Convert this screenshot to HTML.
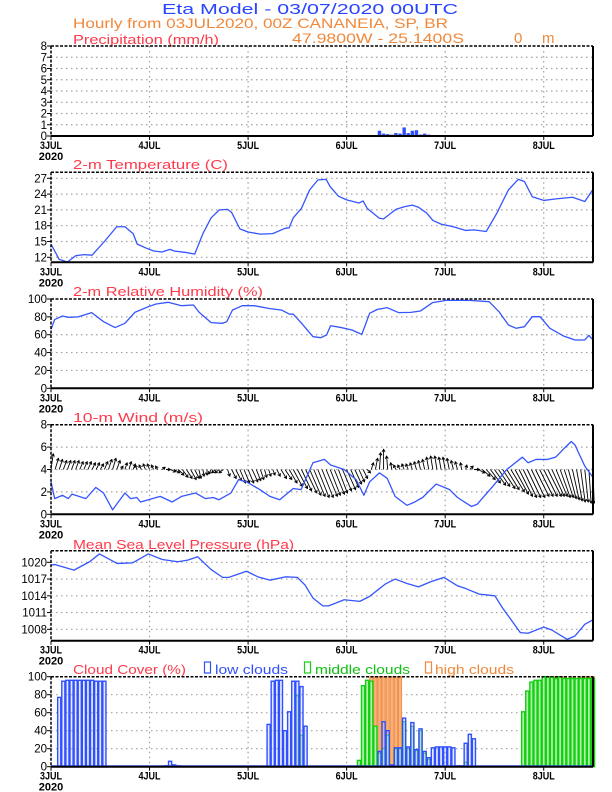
<!DOCTYPE html>
<html><head><meta charset="utf-8"><style>
html,body{margin:0;padding:0;background:#fff;}
svg{display:block;font-family:"Liberation Sans",sans-serif;}
</style></head><body>
<svg id="chart" width="612" height="792" viewBox="0 0 612 792" xmlns="http://www.w3.org/2000/svg">
<defs><clipPath id="windclip"><rect x="51" y="420" width="544" height="96"/></clipPath></defs>
<rect width="612" height="792" fill="#fff"/>
<text x="162" y="14" font-size="15" fill="#2a45ff" textLength="296" lengthAdjust="spacingAndGlyphs">Eta Model - 03/07/2020 00UTC</text>
<text x="73" y="28" font-size="14" fill="#f0883a" textLength="375" lengthAdjust="spacingAndGlyphs">Hourly from 03JUL2020, 00Z  CANANEIA, SP, BR</text>
<text x="73" y="44" font-size="13" fill="#ff3a4a" textLength="146" lengthAdjust="spacingAndGlyphs">Precipitation (mm/h)</text>
<text x="292" y="43" font-size="14" fill="#f0883a" textLength="172" lengthAdjust="spacingAndGlyphs">47.9800W - 25.1400S</text>
<text x="514" y="43" font-size="15" fill="#f0883a">0</text>
<text x="542" y="43" font-size="15" fill="#f0883a">m</text>
<text x="73" y="169" font-size="13" fill="#ff3a4a" textLength="155" lengthAdjust="spacingAndGlyphs">2-m Temperature (C)</text>
<text x="73" y="296" font-size="13" fill="#ff3a4a" textLength="190" lengthAdjust="spacingAndGlyphs">2-m Relative Humidity (%)</text>
<text x="73" y="422" font-size="13" fill="#ff3a4a" textLength="130" lengthAdjust="spacingAndGlyphs">10-m Wind (m/s)</text>
<text x="73" y="549" font-size="13" fill="#ff3a4a" textLength="221" lengthAdjust="spacingAndGlyphs">Mean Sea Level Pressure (hPa)</text>
<text x="73" y="674" font-size="13" fill="#ff3a4a" textLength="113" lengthAdjust="spacingAndGlyphs">Cloud Cover (%)</text>
<rect x="204.5" y="662" width="6" height="11" fill="#fff" stroke="#3050ff" stroke-width="1.2"/>
<text x="215" y="674" font-size="13" fill="#3050ff" textLength="73" lengthAdjust="spacingAndGlyphs">low clouds</text>
<rect x="304.5" y="662" width="6" height="11" fill="#fff" stroke="#10d010" stroke-width="1.2"/>
<text x="315" y="674" font-size="13" fill="#10c010" textLength="95" lengthAdjust="spacingAndGlyphs">middle clouds</text>
<rect x="425.5" y="662" width="6" height="11" fill="#fff" stroke="#f0883a" stroke-width="1.2"/>
<text x="435" y="674" font-size="13" fill="#f0883a" textLength="79" lengthAdjust="spacingAndGlyphs">high clouds</text>
<g id="plots"></g>
</svg>
<script>
// ---- data ----
const dayLabels = ["3JUL","4JUL","5JUL","6JUL","7JUL","8JUL"];
const precipTicks = [0,1,2,3,4,5,6,7,8];
const tempTicks = [12,15,18,21,24,27];
const rhTicks = [0,20,40,60,80,100];
const windTicks = [0,2,4,6,8];
const mslpTicks = [1008,1011,1014,1017,1020];
const cloudTicks = [0,20,40,60,80,100];

const precipHours = [4,28,29,30,31,32,80,81,82,83,84,85,86,87,88,89,90,91,92,93,94,95,96,97,98,99,100,101,102,103,106,107,108];
const precipVals  = [0.03,0.04,0.04,0.04,0.04,0.04,0.45,0.2,0.15,0.1,0.25,0.2,0.75,0.25,0.45,0.5,0.12,0.2,0.1,0.06,0.05,0.05,0.05,0.04,0.04,0.05,0.04,0.04,0.05,0.04,0.03,0.03,0.03];

const tempHours = [0,2,4,6,8,10,13,16,18,20,21,23,25,27,29,30,33,35,37,39,41,43,44,46,48,51,54,57,58,59,61,63,65,67,68,70,72,75,76,77,80,81,84,86,88,89.5,91.5,93,95,98,101,103,106,108.6,111.4,113.8,115.3,117.2,120,123,127,130,132];
const tempVals  = [14.5,11.6,11.1,12.3,12.5,12.4,15.0,17.8,17.8,16.5,14.5,13.8,13.2,13.0,13.5,13.2,12.9,12.6,16.5,19.5,21.0,21.1,20.5,17.4,16.8,16.4,16.5,17.5,17.6,19.5,21.3,24.8,26.7,26.8,25.4,23.6,22.9,22.3,22.7,21.3,19.4,19.3,21.1,21.6,21.9,21.5,20.4,19.0,18.3,17.8,17.1,17.2,16.9,20.4,24.8,26.8,26.4,23.5,22.8,23.1,23.4,22.6,24.9];

const rhHours = [0,0.9,2.8,4.2,6.6,9.9,12.8,15.6,18,20.4,23.7,25.6,28.5,31.8,34.7,36.1,39,41.8,42.8,44.2,46.6,49.5,53.3,56.1,58.1,59,60.9,63.8,65.7,67.1,68.1,70.4,73.3,75.7,77.6,79.5,81.9,84.7,87.6,90,92.9,96.2,101.9,106.7,109.1,111.4,113.3,115.3,117.2,119.1,121.5,124.8,127.6,130,131,132];
const rhVals  = [66,77,81,79.5,80,84.7,74.6,68,72.8,85,91.4,94.4,96.3,92.5,93.3,85,73.5,72.8,74.6,87.7,92.5,92.5,89.2,87.7,83,83,73.5,57.8,56.7,59.7,70,68.3,65.3,60.4,84,88.4,90.3,84.7,85,86.6,95.9,98.5,98.5,97,85.8,70.9,67.2,69,80.2,80.2,67.2,58.6,54.1,54.1,59.3,54.1];

const windHours = [0,0.9,2.8,4.2,5.1,8.5,10.9,12.8,15,18,19.4,20.9,21.8,26.6,29.5,31.8,35.2,37.6,39.5,40.9,43.8,45.7,47.6,50.9,53.3,55.7,59,60.9,63.8,66.6,68.1,71.4,74.3,76.2,77.6,80,81.9,83.8,86.7,88.6,90.5,93.8,97.1,99,102.4,103.8,107.6,111,114.8,116.2,118.1,121,122.9,125.3,126.7,127.6,130,132];
const windVals  = [2.9,1.4,1.7,1.4,1.8,1.4,2.4,1.9,0.4,1.9,1.4,1.5,1.1,1.6,1.1,1.6,1.9,1.4,1.5,1.3,1.9,3.1,2.9,2.2,1.6,1.3,2.3,2.2,4.6,4.9,4.4,4.0,3.1,1.7,2.9,3.7,3.2,1.6,0.8,1.1,1.5,2.7,2.2,1.5,0.7,0.9,2.5,4.0,5.1,4.6,4.9,4.9,5.1,6.0,6.5,6.2,4.3,3.3];

// hourly wind components (m/s), hour 0..132
const vecV = [1.4,1.0,0.9, 0.8,0.8,0.8, 0.8,0.7,0.7, 0.7,0.6,0.6, 0.5,0.7,0.9, 1.0,0.8,0.3, 0.6,0.7,0.5, 0.4,0.4,0.5,
 0.5,0.4,0.3, 0.2,0.0,-0.2, -0.3,-0.5,-0.7, -0.8,-0.9,-0.8, -0.8,-0.6,-0.5, -0.4,-0.3,-0.3, -0.3,-0.6,-0.8, -1.0,-1.2,-1.2,
 -1.2,-1.1,-1.0, -0.9,-0.7,-0.6, -0.5,-0.6,-0.8, -0.9,-1.2,-1.5, -1.7,-1.9,-2.1, -2.3,-2.4,-2.5, -2.5,-2.4,-2.3, -2.2,-2.1,-1.9,
 -1.8,-1.6,-1.3, -1.1,-0.8,-0.3, 0.6,1.0,1.5, 1.8,1.2,0.6, 0.4,0.4,0.5, 0.5,0.6,0.7, 0.8,0.9,1.1, 1.2,1.2,1.1,
 1.1,1.0,0.8, 0.7,0.6,0.4, 0.3,0.0,-0.3, -0.6,-0.9,-1.2, -1.4,-1.5,-1.7, -1.8,-2.0,-2.2, -2.4,-2.5,-2.5, -2.5,-2.4,-2.4,
 -2.4,-2.4,-2.4, -2.4,-2.5,-2.5, -2.6,-2.7,-2.8, -2.9,-2.9,-3.0, -3.0];
const vecU = [0.2,0.3,0.3, 0.3,0.3,0.3, 0.3,0.3,0.3, 0.3,0.3,0.3, 0.3,0.3,0.3, 0.3,0.3,0.2, 0.2,0.2,0.2, -0.2,-0.2,-0.2,
 -0.2,-0.2,-0.2, 0.3,0.4,0.5, 0.5,0.5,0.5, 0.5,0.5,0.4, 0.2,0.1,0.0, -0.2,-0.3,-0.4, -0.4,0.2,0.4, 0.5,0.5,0.5,
 0.5,0.5,0.4, 0.3,0.2,0.2, 0.2,0.3,0.5, 0.6,0.7,0.8, 0.9,0.9,1.0, 1.0,1.0,1.0, 1.0,1.0,0.9, 0.9,0.8,0.8,
 0.8,0.7,0.6, 0.5,0.4,0.3, 0.2,0.2,0.1, 0.0,-0.1,-0.1, -0.2,-0.2,-0.2, -0.2,-0.2,-0.2, -0.2,-0.2,-0.2, -0.2,-0.2,-0.2,
 -0.2,-0.2,-0.2, -0.2,-0.1,0.1, 0.3,0.5,0.6, 0.7,0.8,0.9, 1.0,1.0,1.1, 1.1,1.2,1.2, 1.2,1.2,1.2, 1.2,1.2,1.2,
 1.2,1.2,1.1, 1.0,0.9,0.8, 0.7,0.6,0.5, 0.4,0.3,0.2, 0.1];

const mslpHours = [0,0.9,5.6,9.4,11.8,16.1,19.9,23.7,27.1,30.9,33.3,35.7,39,41.8,43.3,47.6,50.4,53.3,57.1,60,61.9,63.8,66.2,67.6,71.4,75.2,77.6,81.4,83.8,86.7,89.5,92.4,95.7,99,101,104.3,108.1,110,114.3,116.2,120,121.9,125.7,127.6,130,132];
const mslpVals  = [1019.5,1019.6,1018.6,1020.1,1021.5,1019.8,1019.9,1021.5,1020.5,1020.1,1020.4,1021,1018.7,1017.3,1017.3,1018.4,1017.4,1016.8,1017.4,1017.3,1015.9,1013.6,1012.2,1012.2,1013.3,1013.0,1013.9,1016.1,1017,1016.2,1015.6,1016.5,1017.3,1015.8,1015.3,1014.3,1014.0,1011.8,1007.4,1007.3,1008.4,1007.9,1006.2,1006.8,1008.9,1009.7];

const lowHours = [2,3,4,5,6,7,8,9,10,11,12,13,28,29,30,31,53,54,55,56,57,58,59,60,61,62,80,81,82,83,84,85,86,87,88,89,90,91,92,93,94,95,96,97,98,99,100,101,102,103];
const lowVals  = [77,95,96,96,96,96,96,96,96,95,95,95,1,6,2,1,47,95,96,96,40,61,95,95,89,45,17,50,40,2,21,21,54,22,49,19,42,17,10,21,22,22,22,22,21,1,1,26,36,31];
const midHours = [60,61,75,76,77,78,79,80,81,82,84,85,86,87,88,89,90,91,92,101,115,116,117,118,119,120,121,122,123,124,125,126,127,128,129,130,131,132];
const midVals  = [79,35,7,90,96,95,45,15,20,35,20,20,50,20,45,18,40,15,8,5,61,84,94,96,96,100,100,100,98,100,98,98,98,98,98,98,98,98];
const highHours = [78,79,80,81,82,83,84,85,86,115,116,117,118,119,120,121,122,123,124,125,126,127,128,129,130,131,132];
const highVals  = [100,100,100,100,100,100,100,100,35,5,67,85,90,80,56,95,100,100,100,100,92,100,98,100,100,100,100];

// ---- layout ----
const X0 = 51, X1 = 593, HMAX = 132;
const NS = "http://www.w3.org/2000/svg";
const root = document.getElementById("plots");
function xs(h){ return X0 + h*(X1-X0)/HMAX; }
function mk(tag, attrs, parent){
  const e = document.createElementNS(NS, tag);
  for (const k in attrs) e.setAttribute(k, attrs[k]);
  (parent||root).appendChild(e);
  return e;
}
const panels = {
  precip:{top:46, bot:136, min:0, max:8, ticks:precipTicks},
  temp:{top:172.3, bot:262.3, min:11.05, max:28.14, ticks:tempTicks},
  rh:{top:299, bot:388.3, min:0, max:100, ticks:rhTicks},
  wind:{top:424.7, bot:514.3, min:0, max:8, ticks:windTicks},
  mslp:{top:550.7, bot:640.7, min:1005.96, max:1022.08, ticks:mslpTicks},
  cloud:{top:676.7, bot:766.7, min:0, max:100, ticks:cloudTicks}
};
function ys(p, v){ return p.bot - (v-p.min)/(p.max-p.min)*(p.bot-p.top); }

function drawAxes(name, p){
  const g = mk("g", {});
  
  
  p.ticks.forEach(t => {
    const y = ys(p,t);
    if (y > p.top+1 && y < p.bot-1) {
      const l = mk("line", {x1:X0, x2:X1, y1:y, y2:y, stroke:"#a0a0a0", "stroke-width":1.2, "stroke-dasharray":"1.5,3.5"}, g);
      
      
    }
    const tk = mk("line", {x1:X0-4, x2:X0, y1:y, y2:y, stroke:"#000", "stroke-width":1}, g);
    
    
    const tx = mk("text", {x:X0-4, y:y+4, "font-size":11.5, "text-anchor":"end", fill:"#000"}, g);
    tx.textContent = t;
    
    
  });
  dayLabels.forEach((d,i) => {
    const x = xs(i*24);
    if (i > 0) {
      const l = mk("line", {x1:x, x2:x, y1:p.top, y2:p.bot, stroke:"#a0a0a0", "stroke-width":1.2, "stroke-dasharray":"1.5,3.5"}, g);
      
      
    }
    const tk = mk("line", {x1:x, x2:x, y1:p.bot, y2:p.bot+4, stroke:"#000", "stroke-width":1}, g);
    
    
    const tx = mk("text", {x:x, y:p.bot+13, "font-size":11, "font-weight":"bold", "text-anchor":"middle", fill:"#000", textLength:22, lengthAdjust:"spacingAndGlyphs"}, g);
    tx.textContent = d;
    
    
  });
  const yr = mk("text", {x:X0, y:p.bot+24, "font-size":11, "font-weight":"bold", "text-anchor":"middle", fill:"#000"}, g);
  yr.textContent = "2020";
  
  
}
function drawFrame(name, p){
  const g = mk("g", {});
  
  
  mk("line", {x1:X0, x2:X1, y1:p.top, y2:p.top, stroke:"#000", "stroke-width":1.5, "stroke-dasharray":"3,1.5"}, g);
  mk("line", {x1:X0, x2:X0, y1:p.top, y2:p.bot, stroke:"#000", "stroke-width":1.5, "stroke-dasharray":"3,1.5"}, g);
  mk("line", {x1:X1, x2:X1, y1:p.top, y2:p.bot, stroke:"#000", "stroke-width":2}, g);
  mk("line", {x1:X0, x2:X1, y1:p.bot, y2:p.bot, stroke:"#000", "stroke-width":2}, g);
}
function drawLine(name, p, hrs, vals){
  let d = "";
  hrs.forEach((h,i) => { d += (i ? "L" : "M") + xs(h).toFixed(2) + "," + ys(p, vals[i]).toFixed(2); });
  const path = mk("path", {d:d, fill:"none", stroke:"#3555ff", "stroke-width":1.3, "stroke-linejoin":"round"});
  
  
}
function drawBars(name, p, hrs, vals, fill, stroke, sw){
  const g = mk("g", {});
  
  
  const w = (X1-X0)/HMAX;
  hrs.forEach((h,i) => {
    const y = ys(p, vals[i]);
    const r = mk("rect", {x:(xs(h)-w/2+0.5).toFixed(2), y:y.toFixed(2), width:(w-1).toFixed(2), height:Math.max(0, p.bot-y).toFixed(2), fill:fill, stroke:stroke, "stroke-width":sw}, g);
    
    
  });
}

Object.keys(panels).forEach(k => drawAxes(k, panels[k]));

drawBars("precip-bars", panels.precip, precipHours, precipVals, "#3050ff", "#3050ff", 0.3);
drawLine("temperature-line", panels.temp, tempHours, tempVals);
drawLine("humidity-line", panels.rh, rhHours, rhVals);
(function(){
  const p = panels.wind;
  const g = mk("g", {"clip-path":"url(#windclip)"});
  
  
  const pxPerMs = (p.bot-p.top)/(p.max-p.min);
  vecV.forEach((v,h) => {
    const x0 = xs(h), y0 = ys(p, 4);
    const x1 = x0 + vecU[h]*pxPerMs, y1 = ys(p, 4 + v);
    const ang = Math.atan2(y1-y0, x1-x0);
    const hl = 3;
    const a1 = ang + 2.6, a2 = ang - 2.6;
    const d = "M"+x0.toFixed(2)+","+y0.toFixed(2)+"L"+x1.toFixed(2)+","+y1.toFixed(2)+"M"+(x1+hl*Math.cos(a1)).toFixed(2)+","+(y1+hl*Math.sin(a1)).toFixed(2)+"L"+x1.toFixed(2)+","+y1.toFixed(2)+"L"+(x1+hl*Math.cos(a2)).toFixed(2)+","+(y1+hl*Math.sin(a2)).toFixed(2);
    const a = mk("path", {d:d, fill:"none", stroke:"#000", "stroke-width":0.9}, g);
    
    
  });
})();
drawLine("wind-speed-line", panels.wind, windHours, windVals);
drawLine("pressure-line", panels.mslp, mslpHours, mslpVals);
drawBars("high-cloud-bars", panels.cloud, highHours, highVals, "#f8b27a", "#f09050", 1);
drawBars("middle-cloud-bars", panels.cloud, midHours, midVals, "#b8f0b0", "#10d010", 1.4);
drawBars("low-cloud-bars", panels.cloud, lowHours, lowVals, "rgba(180,195,255,0.35)", "#3050ff", 1.4);
(function(){
  const p = panels.cloud;
  const l = mk("line", {x1:X0, x2:X1, y1:p.bot-0.5, y2:p.bot-0.5, stroke:"#3050ff", "stroke-width":2});
  
  
})();

Object.keys(panels).forEach(k => drawFrame(k, panels[k]));
</script>
</body></html>
